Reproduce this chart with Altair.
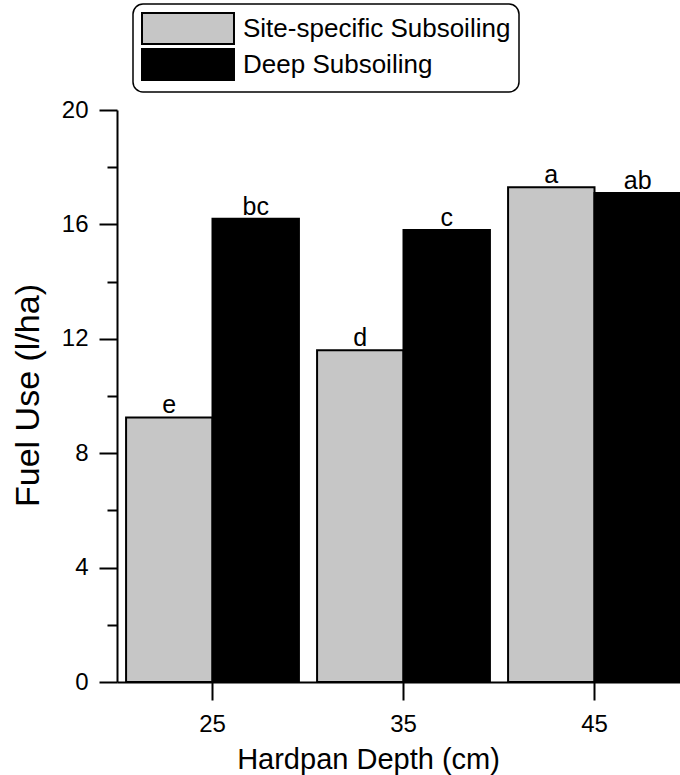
import altair as alt
import pandas as pd

depths = ["25", "35", "45"]
series = ["Site-specific Subsoiling", "Deep Subsoiling"]
site_specific = [9.25, 11.6, 17.3]
deep_subsoiling = [16.2, 15.8, 17.1]
site_letters = ["e", "d", "a"]
deep_letters = ["bc", "c", "ab"]
y_ticks = [0, 2, 4, 6, 8, 10, 12, 14, 16, 18, 20]

rows = []
for d, v, l in zip(depths, site_specific, site_letters):
    rows.append({"depth": d, "series": series[0], "fuel": v, "letter": l})
for d, v, l in zip(depths, deep_subsoiling, deep_letters):
    rows.append({"depth": d, "series": series[1], "fuel": v, "letter": l})
df = pd.DataFrame(rows)

FONT = "Liberation Sans"

x = alt.X(
    "depth:N",
    sort=depths,
    scale=alt.Scale(type="band", range=[0, 573], paddingInner=0, paddingOuter=0),
    axis=alt.Axis(
        title="Hardpan Depth (cm)",
        labelAngle=0,
        tickSize=18,
        labelFontSize=24,
        labelPadding=12,
        titleFontSize=29,
        titlePadding=9,
        titleX=251,
    ),
)
xo = alt.XOffset(
    "series:N", sort=series, scale=alt.Scale(paddingOuter=0.105, paddingInner=0)
)
y = alt.Y(
    "fuel:Q",
    scale=alt.Scale(domain=[0, 20], nice=False),
    axis=alt.Axis(
        title="Fuel Use (l/ha)",
        values=y_ticks,
        tickSize=18,
        tickDash={"condition": {"test": "datum.value % 4 !== 0", "value": [10, 30]}, "value": [40, 0]},
        labelExpr="datum.value % 4 === 0 ? datum.label : ''",
        labelFontSize=24,
        labelPadding=11,
        titleFontSize=34,
        titlePadding=16,
        titleY=285,
        grid=False,
    ),
)

bars = alt.Chart(df).mark_bar(stroke="black", strokeWidth=2).encode(
    x=x,
    xOffset=xo,
    y=y,
    color=alt.Color(
        "series:N",
        sort=series,
        scale=alt.Scale(domain=series, range=["#c6c6c6", "#000000"]),
        legend=alt.Legend(
            title=None,
            orient="none",
            legendX=16,
            legendY=-106,
            symbolType="M-1,-1H4.935V1H-1Z",
            symbolSize=961,
            symbolStrokeColor="black",
            symbolStrokeWidth=2,
            symbolOpacity=1,
            labelFontSize=26,
            labelFont=FONT,
            labelColor="black",
            labelOffset=69,
            labelLimit=0,
            rowPadding=-4.5,
            padding=8,
            strokeColor="black",
            cornerRadius=10,
            fillColor="white",
        ),
    ),
)

labels = alt.Chart(df).mark_text(
    baseline="alphabetic", dy=-4, fontSize=25, font=FONT, color="black"
).encode(x=x, xOffset=xo, y="fuel:Q", text="letter:N")

chart = (
    alt.layer(bars, labels)
    .properties(
        width=563,
        height=572,
        autosize=alt.AutoSizeParams(type="none"),
        padding={"left": 117, "top": 110, "right": 0, "bottom": 93},
        background="white",
    )
    .configure_view(stroke=None)
    .configure_axis(
        domainColor="black",
        domainWidth=2,
        tickColor="black",
        tickWidth=2,
        labelColor="black",
        titleColor="black",
        labelFont=FONT,
        titleFont=FONT,
        titleFontWeight="normal",
    )
    .configure_legend(strokeWidth=1.5)
)

chart.save("out.html", embed_options={"renderer": "svg", "actions": False})
